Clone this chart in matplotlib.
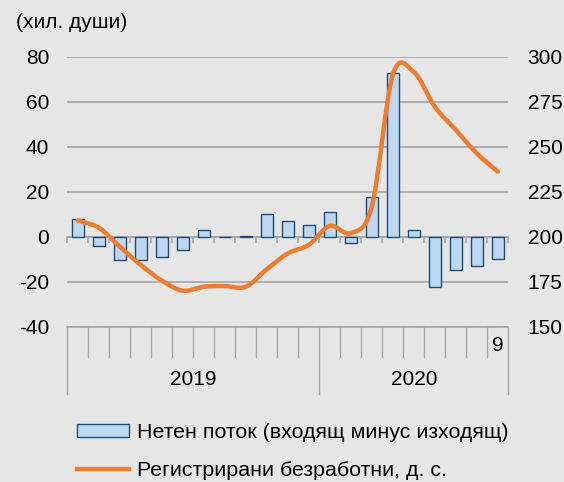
import numpy as np
import matplotlib
matplotlib.use('Agg')
import matplotlib.pyplot as plt
from matplotlib.path import Path
from matplotlib.patches import PathPatch, Patch
from matplotlib.lines import Line2D
from matplotlib.transforms import blended_transform_factory

plt.rcParams['font.family'] = ['Liberation Sans', 'DejaVu Sans']
plt.rcParams['font.size'] = 15
plt.rcParams['axes.unicode_minus'] = False

# 2019 I - 2020 IX
net_flow = [8, -4.3, -10.4, -10.2, -9, -5.8, 3, 0, 0.3, 9.9, 7, 5.3,
            10.8, -3, 17.8, 72.9, 2.8, -22.2, -14.8, -12.9, -9.8]
unemployed = [209, 205, 194.5, 184.3, 175.6, 170, 172.2, 172.6, 172.2, 181.9, 190.7, 195.5,
              206, 202, 216.7, 290, 291.5, 272.2, 259.3, 246.3, 236.1]
years = ['2019', '2020']
months_per_year = [12, 9]
last_month_label = '9'
bar_label = 'Нетен поток (входящ минус изходящ)'
line_label = 'Регистрирани безработни, д. с.'

bg = '#e6e6e6'
grid_c = '#a6a6a6'
bar_fill = '#bdd7ee'
bar_edge = '#1f4e79'
orange = '#ed7d31'

fig = plt.figure(figsize=(5.64, 4.82), dpi=100, facecolor=bg)
ax = fig.add_axes([67.3 / 564, 1 - 326.7 / 482, 441 / 564, 270 / 482])
ax.set_facecolor(bg)
ax2 = ax.twinx()

n = len(net_flow)
x = np.arange(n)
ax.bar(x, net_flow, width=0.55, color=bar_fill, edgecolor=bar_edge, linewidth=1.0, zorder=3)
ax.set_xlim(-0.5, n - 0.5)
ax.set_ylim(-40, 80)
ax.set_yticks(range(-40, 81, 20))
ax.grid(axis='y', color=grid_c, linewidth=1.2, zorder=0)
ax.set_axisbelow(True)
for s in ['top', 'right', 'left']:
    ax.spines[s].set_visible(False)
ax.spines['bottom'].set_position(('data', 0))
ax.spines['bottom'].set_color(grid_c)
ax.spines['bottom'].set_linewidth(1.2)
ax.set_xticks(np.arange(n + 1) - 0.5)
ax.tick_params(axis='x', direction='out', length=4, color=grid_c, width=1.2, labelbottom=False)
ax.tick_params(axis='y', length=0, pad=13)

# category axis below the plot
tr = blended_transform_factory(ax.transData, ax.transAxes)
ax.plot([-0.5, n - 0.5], [0, 0], transform=tr, color=grid_c, lw=1.2, clip_on=False)
bounds = np.cumsum([0] + months_per_year) - 0.5
for k in range(n + 1):
    b = k - 0.5
    depth = -0.248 if b in bounds else -0.111
    ax.plot([b, b], [0, depth], transform=tr, color=grid_c, lw=1.0, clip_on=False)
for i, yr in enumerate(years):
    ax.text((bounds[i] + bounds[i + 1]) / 2, -0.194, yr, transform=tr,
            ha='center', va='center')
ax.text(n - 1, -0.071, last_month_label, transform=tr, ha='center', va='center')

# smoothed line (Excel-style bezier through the points)
pts = np.column_stack([x, unemployed]).astype(float)
verts = [pts[0]]
codes = [Path.MOVETO]
for i in range(n - 1):
    p0 = pts[max(i - 1, 0)]
    p1 = pts[i]
    p2 = pts[i + 1]
    p3 = pts[min(i + 2, n - 1)]
    verts += [p1 + (p2 - p0) / 6, p2 - (p3 - p1) / 6, p2]
    codes += [Path.CURVE4] * 3
ax2.add_patch(PathPatch(Path(verts, codes), facecolor='none', edgecolor=orange,
                        linewidth=3.2, capstyle='round', zorder=4))
ax2.set_ylim(150, 300)
ax2.set_yticks(range(150, 301, 25))
ax2.tick_params(axis='y', length=0, pad=14)
for s in ax2.spines.values():
    s.set_visible(False)

fig.text(16 / 564, 1 - 23 / 482, '(хил. души)', ha='left', va='center')

handles = [Patch(facecolor=bar_fill, edgecolor=bar_edge, linewidth=1.0),
           Line2D([], [], color=orange, linewidth=3.2)]
leg = fig.legend(handles, [bar_label, line_label], loc='upper left',
                 bbox_to_anchor=(77 / 564, 1 - 423 / 482), frameon=False,
                 handlelength=2.45, handleheight=0.55, handletextpad=0.35, labelspacing=0.9,
                 borderpad=0, borderaxespad=0, prop={'size': 15.4})

fig.savefig('out.png', dpi=100, facecolor=bg)
